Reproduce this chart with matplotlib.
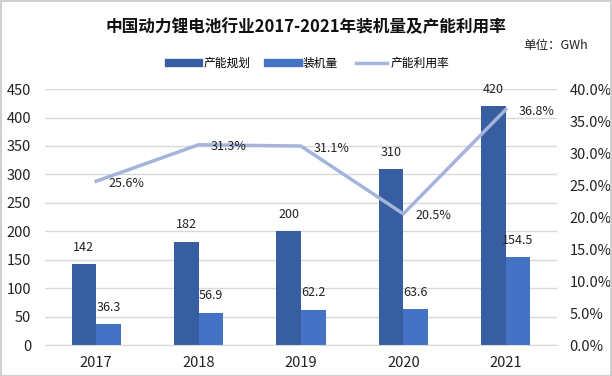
import matplotlib
matplotlib.use("Agg")
import matplotlib.pyplot as plt
from matplotlib.lines import Line2D
from matplotlib.patches import Rectangle
from matplotlib.ticker import MultipleLocator, FuncFormatter
import numpy as np

plt.rcParams['font.family'] = ['Noto Sans CJK SC', 'DejaVu Sans']

years = ['2017', '2018', '2019', '2020', '2021']
capacity = [142, 182, 200, 310, 420]          # 产能规划
installed = [36.3, 56.9, 62.2, 63.6, 154.5]  # 装机量
utilization = [25.6, 31.3, 31.1, 20.5, 36.8]  # 产能利用率 (%)

c_dark = '#365EA1'
c_light = '#4472C4'
c_line = '#A4B4DB'
c_grid = '#D9D9D9'

fig = plt.figure(figsize=(6.12, 3.76), dpi=100)
ax = fig.add_axes([0.0735, 0.0824, 0.8365, 0.6806])
ax2 = ax.twinx()

x = np.arange(len(years))
w = 0.24
ax.bar(x - w / 2, capacity, w, color=c_dark, zorder=2)
ax.bar(x + w / 2, installed, w, color=c_light, zorder=2)

for xi, v in zip(x, capacity):
    ax.annotate(f'{v:g}', (xi - w / 2, v), xytext=(0, 12), textcoords='offset points',
                ha='center', va='center', fontsize=9, color='#222222')
for xi, v in zip(x, installed):
    ax.annotate(f'{v:g}', (xi + w / 2, v), xytext=(0, 12), textcoords='offset points',
                ha='center', va='center', fontsize=9, color='#222222')

ax.set_xlim(-0.5, len(years) - 0.5)
ax.set_ylim(0, 450)
ax.yaxis.set_major_locator(MultipleLocator(50))
ax.set_xticks(x)
ax.set_xticklabels(years)
ax.grid(axis='y', color=c_grid, linewidth=1, zorder=0)
ax.set_axisbelow(True)
for s in ax.spines.values():
    s.set_visible(False)
ax.spines['bottom'].set_visible(True)
ax.spines['bottom'].set_color(c_grid)
ax.tick_params(axis='both', length=0, labelsize=10.5, colors='#222222')
ax.tick_params(axis='y', pad=10)
ax.tick_params(axis='x', pad=8)

ax2.plot(x, utilization, color=c_line, linewidth=2.5, zorder=3)
for xi, v in zip(x, utilization):
    ax2.annotate(f'{v:.1f}%', (xi, v), xytext=(9, -1.5), textcoords='offset points',
                 ha='left', va='center', fontsize=9, color='#222222')
ax2.set_ylim(0, 40)
ax2.yaxis.set_major_locator(MultipleLocator(5))
ax2.yaxis.set_major_formatter(FuncFormatter(lambda v, p: f'{v:.1f}%'))
for s in ax2.spines.values():
    s.set_visible(False)
ax2.tick_params(axis='y', length=0, labelsize=10.5, colors='#222222', pad=9)

fig.text(0.5, 0.928, '中国动力锂电池行业2017-2021年装机量及产能利用率',
         ha='center', va='center', fontsize=12, fontweight='bold', color='#111111')
fig.text(0.961, 0.880, '单位：GWh', ha='right', va='center', fontsize=9, color='#222222')

handles = [Line2D([], [], color=c_dark, linewidth=6),
           Line2D([], [], color=c_light, linewidth=6),
           Line2D([], [], color=c_line, linewidth=2.5)]
fig.legend(handles, ['产能规划', '装机量', '产能利用率'], loc='center',
           bbox_to_anchor=(0.505, 0.832), ncol=3, frameon=False, fontsize=8.5,
           handlelength=2.6, columnspacing=1.5, handletextpad=0.35)

fig.patches.append(Rectangle((0.001, 0.001), 0.997, 0.997, transform=fig.transFigure,
                             fill=False, edgecolor='#D0D0D0', linewidth=1.5))

fig.savefig('out.png', dpi=100)
